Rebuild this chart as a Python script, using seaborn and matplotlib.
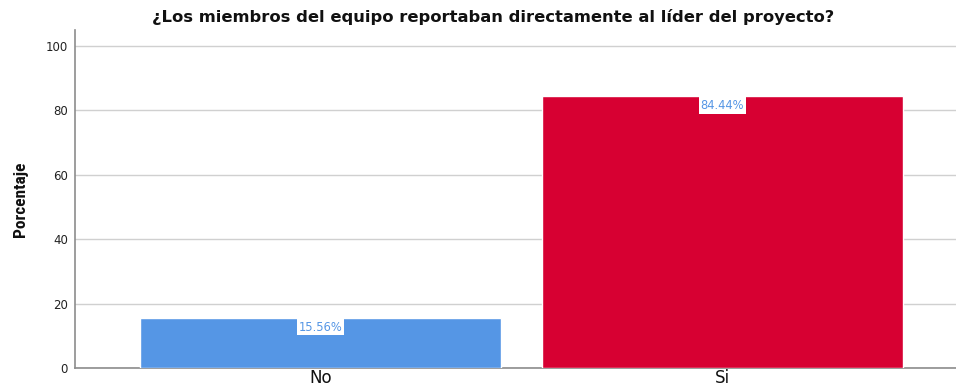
import matplotlib
matplotlib.use("Agg")
import matplotlib.pyplot as plt
from matplotlib import font_manager
import seaborn as sns
import pandas as pd

categories = ["No", "Si"]
percentages = [15.56, 84.44]
bar_colors = ["#5596E5", "#D70032"]
title = "¿Los miembros del equipo reportaban directamente al líder del proyecto?"
y_label = "Porcentaje"
y_ticks = [0, 20, 40, 60, 80, 100]

sns.set_theme(style="white")
plt.rcParams["font.family"] = ["DejaVu Sans"]

# Prefer a condensed face for the axis title when one is available
installed = {f.name for f in font_manager.fontManager.ttflist}
condensed = [n for n in ["Roboto Condensed", "Open Sans Condensed",
                         "Liberation Sans Narrow", "DejaVu Sans Condensed"]
             if n in installed]
label_family = condensed + ["DejaVu Sans"]
label_size = 12.5 if condensed else 10

df = pd.DataFrame({"Respuesta": categories, "Porcentaje": percentages})

fig = plt.figure(figsize=(9.56, 3.89), dpi=100)
ax = fig.add_axes([75 / 956, 21 / 389, (968 - 75) / 956, (368 - 30) / 389])

sns.barplot(data=df, x="Respuesta", y="Porcentaje", hue="Respuesta",
            palette=bar_colors, width=0.898, legend=False, ax=ax,
            saturation=1, zorder=3)

ax.set_xlim(-0.611, 1.611)
ax.set_ylim(0, 105)
ax.set_yticks(y_ticks)
ax.yaxis.grid(True, color="#d0d0d0", linewidth=1.0, zorder=0)
ax.xaxis.grid(False)
ax.set_axisbelow(True)

for side in ["top", "right"]:
    ax.spines[side].set_visible(False)
for side in ["left", "bottom"]:
    ax.spines[side].set_color("#8c8c8c")
    ax.spines[side].set_linewidth(1.2)

ax.tick_params(axis="y", length=0, labelsize=8.5, colors="#222222", pad=5)
ax.tick_params(axis="x", length=0, labelsize=12, colors="#111111", pad=1)
ax.set_xlabel("")
ax.set_ylabel(y_label, fontsize=label_size, fontweight="bold",
              family=label_family, color="#111111")
ax.yaxis.set_label_coords(-0.0526, 0.5)

for i, v in enumerate(percentages):
    ax.annotate(f"{v:.2f}%", xy=(i, v), xytext=(0, -2), textcoords="offset points",
                ha="center", va="top", fontsize=8.3, color="#5596E5",
                bbox=dict(boxstyle="square,pad=0.15", facecolor="white",
                          edgecolor="none"), zorder=5)

fig.text(493 / 956, 1 - 17 / 389, title, ha="center", va="center",
         fontsize=11.8, fontweight="bold", color="#111111")

fig.savefig("out.png", dpi=100)
